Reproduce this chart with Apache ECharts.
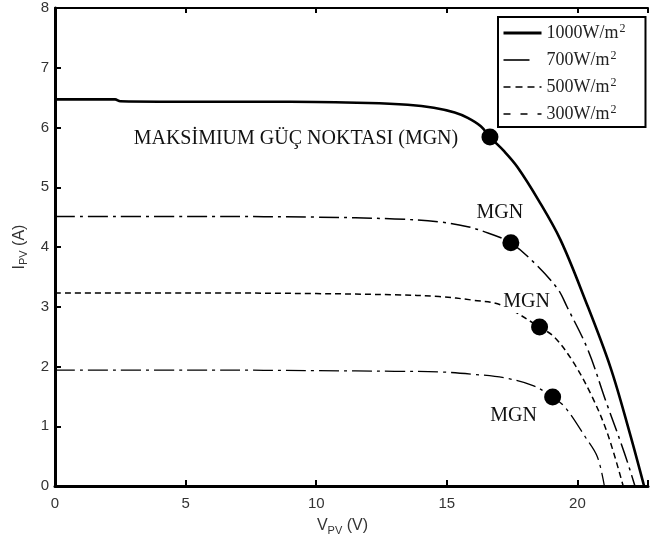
<!DOCTYPE html>
<html>
<head>
<meta charset="utf-8">
<script src="https://cdn.jsdelivr.net/npm/echarts@6/dist/echarts.min.js"></script>
<style>
  html, body { margin: 0; padding: 0; background: #fff; }
  #chart { width: 651px; height: 545px; }
</style>
</head>
<body>
<div id="chart"></div>
<script>
// I-V eğrileri, okunan değerler (V, A)
const v1000 = [0, 2.3, 2.5, 6, 9, 12, 13.5, 14.5, 15.3, 15.8, 16.3, 16.65, 17.2, 17.7, 18.5, 19.35, 20.3, 21.26, 22.0, 22.55]
const i1000 = [6.47, 6.47, 6.44, 6.43, 6.43, 6.41, 6.38, 6.33, 6.25, 6.16, 6.02, 5.84, 5.6, 5.34, 4.79, 4.12, 3.11, 1.99, 0.89, 0]
const v700 = [0, 6, 10, 13, 14.7, 15.8, 16.6, 17.45, 18.36, 19.24, 19.6, 20.4, 21.07, 21.8, 22.2]
const i700 = [4.51, 4.51, 4.5, 4.47, 4.42, 4.34, 4.23, 4.07, 3.73, 3.3, 3.0, 2.28, 1.44, 0.55, 0]
const v500 = [0, 6, 10, 13, 14.7, 16, 17.07, 18.55, 19.12, 19.8, 20.5, 21.14, 21.75]
const i500 = [3.23, 3.23, 3.22, 3.2, 3.17, 3.11, 3.03, 2.66, 2.49, 2.1, 1.55, 0.89, 0]
const v300 = [0, 6, 10, 13, 14.7, 16, 17.2, 18.3, 19.05, 19.54, 20.3, 20.76, 21.03]
const i300 = [1.94, 1.94, 1.93, 1.92, 1.91, 1.87, 1.81, 1.68, 1.49, 1.31, 0.82, 0.49, 0]

const seriesNames = ['1000W/m2', '700W/m2', '500W/m2', '300W/m2']

// maksimum güç noktaları
const mppV = [16.65, 17.45, 18.55, 19.05]
const mppI = [5.84, 4.07, 2.66, 1.49]
const mppText = ['MAKSİMIUM GÜÇ NOKTASI (MGN)', 'MGN', 'MGN', 'MGN']

const xTicks = [0, 5, 10, 15, 20]
const yTicks = [0, 1, 2, 3, 4, 5, 6, 7, 8]

// etiket kaydırmaları (stil)
const mppLabelOffset = [[-194, 2], [-11, -30], [-13, -25], [-39, 19]]

const zip = (xs, ys) => xs.map((x, k) => [x, ys[k]])

const serif = '"Liberation Serif", "DejaVu Serif", serif'
const sans = '"Liberation Sans", Arial, sans-serif'

let myChart = echarts.init(document.getElementById('chart'))

const lineSeries = (name, xs, ys, lineStyle) => ({
  name: name,
  type: 'line',
  data: zip(xs, ys),
  showSymbol: false,
  symbol: 'none',
  smooth: 0.35,
  lineStyle: lineStyle,
  itemStyle: { color: '#000' },
  z: 3
})

// legend çizgi örnekleri
const legendLines = [
  { width: 3, type: 'solid' },
  { width: 1.6, type: [26, 40] },
  { width: 1.5, type: [7, 5] },
  { width: 1.5, type: [7, 10] }
]

let option = {
  backgroundColor: '#fff',
  animation: false,
  grid: {
    left: 55,
    right: 0,
    top: 8,
    bottom: 59
  },
  legend: {
    data: seriesNames.map((n, k) => ({ name: n, lineStyle: legendLines[k] })),
    orient: 'vertical',
    left: 498,
    top: 17,
    padding: [6, 20, 3, 4],
    itemGap: 7,
    itemWidth: 38,
    itemHeight: 14,
    itemTextGap: 8,
    borderColor: '#000',
    borderWidth: 2,
    backgroundColor: '#fff',
    itemStyle: { color: 'rgba(0,0,0,0)', borderWidth: 0, opacity: 0 },
    formatter: function (name) {
      return '{t|' + name.replace('m2', 'm') + '}{s|2}'
    },
    textStyle: {
      color: '#222',
      rich: {
        t: { fontFamily: serif, fontSize: 18, lineHeight: 20, color: '#222' },
        s: { fontFamily: serif, fontSize: 12, lineHeight: 20, color: '#222', verticalAlign: 'top', padding: [0, 0, 8, 1] }
      }
    }
  },
  xAxis: [{
    type: 'value',
    min: 0,
    max: 22.7,
    interval: 5,
    name: '{n|V}{s|PV}{n| (V)}',
    nameLocation: 'middle',
    nameGap: 29,
    nameTextStyle: {
      padding: [0, 18, 0, 0],
      rich: {
        n: { fontFamily: sans, fontSize: 16, color: '#333' },
        s: { fontFamily: sans, fontSize: 11, color: '#333', padding: [10, 0, 0, 0] }
      }
    },
    axisLine: { show: true, lineStyle: { color: '#000', width: 3 } },
    axisTick: { show: true, inside: true, length: 6, lineStyle: { color: '#000', width: 2 } },
    splitLine: { show: false },
    showMaxLabel: false,
    axisLabel: {
      margin: 10,
      color: '#333',
      fontFamily: sans,
      fontSize: 15,
      formatter: function (value) {
        return xTicks.indexOf(value) >= 0 ? value : ''
      }
    }
  }, {
    type: 'value',
    position: 'top',
    min: 0,
    max: 22.7,
    interval: 5,
    axisLine: { show: true, lineStyle: { color: '#000', width: 2 } },
    axisTick: { show: true, inside: true, length: 5, lineStyle: { color: '#000', width: 2 } },
    axisLabel: { show: false },
    splitLine: { show: false }
  }],
  yAxis: [{
    type: 'value',
    min: 0,
    max: 8,
    interval: 1,
    name: '{n|I}{s|PV}{n| (A)}',
    nameLocation: 'middle',
    nameGap: 22,
    nameRotate: 90,
    nameTextStyle: {
      rich: {
        n: { fontFamily: sans, fontSize: 16, color: '#333' },
        s: { fontFamily: sans, fontSize: 11, color: '#333', padding: [10, 0, 0, 0] }
      }
    },
    axisLine: { show: true, lineStyle: { color: '#000', width: 3 } },
    axisTick: { show: true, inside: true, length: 6, lineStyle: { color: '#000', width: 2 } },
    splitLine: { show: false },
    axisLabel: {
      margin: 6,
      color: '#333',
      fontFamily: sans,
      fontSize: 15,
      formatter: function (value) {
        return yTicks.indexOf(value) >= 0 ? value : ''
      }
    }
  }],
  series: [
    lineSeries(seriesNames[0], v1000, i1000, { color: '#000', width: 2.6, type: 'solid' }),
    lineSeries(seriesNames[1], v700, i700, { color: '#000', width: 1.5, type: [20, 5, 3, 5] }),
    lineSeries(seriesNames[2], v500, i500, { color: '#000', width: 1.5, type: [6, 4] }),
    lineSeries(seriesNames[3], v300, i300, { color: '#000', width: 1.3, type: [20, 5, 3, 5] }),
    {
      name: 'MGN',
      type: 'scatter',
      symbol: 'circle',
      symbolSize: 17,
      itemStyle: { color: '#000', opacity: 1 },
      z: 5,
      data: mppV.map((v, k) => ({
        value: [v, mppI[k]],
        label: {
          show: true,
          position: 'inside',
          offset: mppLabelOffset[k],
          formatter: mppText[k],
          fontFamily: serif,
          fontSize: 20,
          color: '#111',
          backgroundColor: '#fff',
          padding: [1, 2]
        }
      }))
    }
  ]
}
myChart.setOption(option)
</script>
</body>
</html>
